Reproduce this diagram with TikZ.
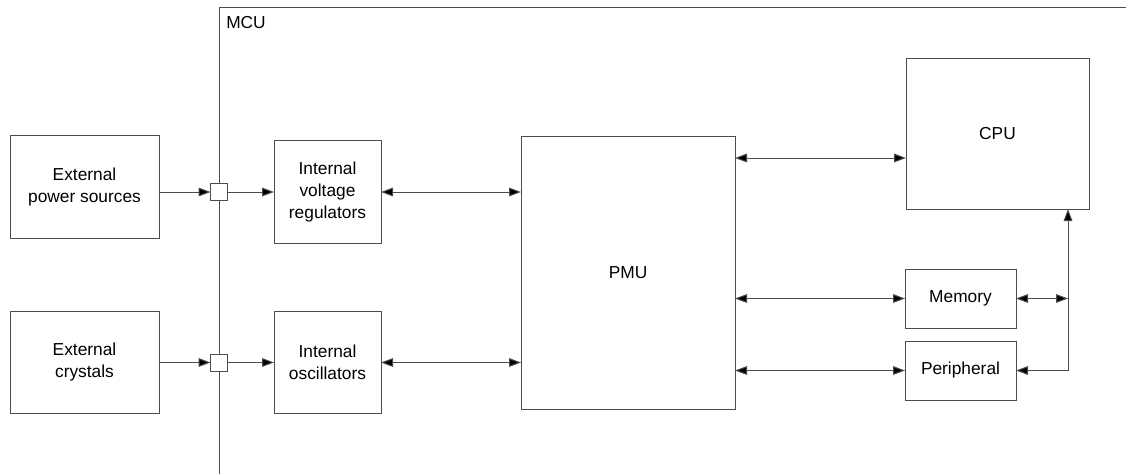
\documentclass[tikz,border=0pt]{standalone}
\usepackage{fontspec}
\setmainfont{Liberation Sans}
\usetikzlibrary{arrows.meta}

\tikzset{
  block/.style={draw=black!70, line width=0.75pt, inner sep=0pt, outer sep=0pt,
    align=center, font=\fontsize{13}{16.5}\selectfont},
  port/.style={draw=black!70, fill=white, line width=0.75pt, inner sep=0pt,
    outer sep=0pt, minimum size=12.75pt},
  link/.style={draw=black!70, line width=0.75pt,
    -{Triangle[length=9pt,width=6.5pt,fill=black]}},
  dlink/.style={link, {Triangle[length=9pt,width=6.5pt,fill=black]}-{Triangle[length=9pt,width=6.5pt,fill=black]}}
}

\begin{document}
\begin{tikzpicture}[x=0.75pt,y=-0.75pt]
  \useasboundingbox (0,0) rectangle (1126,474);
  \draw[draw=black!70, line width=0.75pt] (219,474) -- (219,8) -- (1126,8);
  \node[anchor=north west, font=\fontsize{13}{16.5}\selectfont, inner sep=0pt] (mcu) at (226,16) {MCU};

  \node[block, minimum width=111.75pt, minimum height=76.5pt] (power) at (84.5,187) {External\\power sources};
  \node[block, minimum width=111.75pt, minimum height=76.5pt] (xtal) at (84.5,362.5) {External\\crystals};
  \node[port] (pin1) at (219,192) {};
  \node[port] (pin2) at (219,362.5) {};
  \node[block, minimum width=80.25pt, minimum height=76.5pt] (ivr) at (327.5,192) {Internal\\voltage\\regulators};
  \node[block, minimum width=80.25pt, minimum height=76.5pt] (osc) at (327.5,362.5) {Internal\\oscillators};
  \node[block, minimum width=160.5pt, minimum height=204pt] (pmu) at (628,273) {PMU};
  \node[block, minimum width=137.25pt, minimum height=112.5pt] (cpu) at (997.5,134) {CPU};
  \node[block, minimum width=83.25pt, minimum height=44.25pt] (mem) at (960.5,298.5) {Memory};
  \node[block, minimum width=83.25pt, minimum height=44.25pt] (per) at (960.5,370.5) {Peripheral};
  \coordinate (bus) at (1068,298.5);

  \draw[link] (power.east |- pin1) -- (pin1);
  \draw[link] (pin1) -- (ivr);
  \draw[link] (xtal.east |- pin2) -- (pin2);
  \draw[link] (pin2) -- (osc);
  \draw[dlink] (ivr) -- (pmu.west |- ivr);
  \draw[dlink] (osc) -- (pmu.west |- osc);
  \draw[dlink] (pmu.east |- 0,158) -- (cpu.west |- 0,158);
  \draw[dlink] (pmu.east |- mem) -- (mem);
  \draw[dlink] (pmu.east |- per) -- (per);
  \draw[dlink] (mem) -- (bus);
  \draw[dlink] (per) -| (bus |- cpu.south);
\end{tikzpicture}
\end{document}
